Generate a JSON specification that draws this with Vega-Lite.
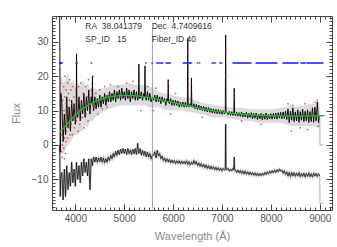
{
"$schema":"https://vega.github.io/schema/vega-lite/v6.json",
"width":280,"height":194,
"autosize":{"type":"none"},
"padding":{"left":52,"top":16,"right":5,"bottom":37},
"config":{"view":{"stroke":null},"axis":{"grid":false,"labelFont":"Liberation Sans","labelFontSize":10,"labelColor":"#555","titleFont":"Liberation Sans","titleFontSize":11,"titleFontWeight":"normal","titleColor":"#888","domainColor":"#444","tickColor":"#444","domainWidth":1,"tickWidth":1}},
"datasets":{
"spec":[
{"w":3680,"m":38,"l":0},{"w":3692,"m":-2,"l":-15},{"w":3705,"m":15,"l":-9},{"w":3725,"m":12,"l":-8},{"w":3750,"m":1,"l":-16},{"w":3775,"m":9,"l":-7},{"w":3800,"m":3,"l":-15},{"w":3825,"m":14,"l":-6},{"w":3850,"m":5,"l":-13},{"w":3875,"m":11,"l":-8},{"w":3900,"m":4,"l":-12},{"w":3925,"m":13,"l":-5},{"w":3950,"m":7,"l":-11},{"w":3975,"m":12,"l":-7},{"w":4000,"m":6,"l":-12},{"w":4017,"m":9,"l":-7},{"w":4025,"m":26.5,"l":-5},{"w":4033,"m":9,"l":-7},{"w":4050,"m":8,"l":-10},{"w":4075,"m":14,"l":-6},{"w":4100,"m":7,"l":-11},{"w":4125,"m":13,"l":-5},{"w":4150,"m":9,"l":-9},{"w":4175,"m":15,"l":-4},{"w":4200,"m":8,"l":-8},{"w":4225,"m":14,"l":-5},{"w":4250,"m":10,"l":-9},{"w":4275,"m":16,"l":-4},{"w":4300,"m":9,"l":-13},{"w":4325,"m":14,"l":-4},{"w":4342,"m":12,"l":-5},{"w":4350,"m":20,"l":-6},{"w":4358,"m":12,"l":-5},{"w":4375,"m":10,"l":-3.5},{"w":4400,"m":14,"l":-5},{"w":4425,"m":10.5,"l":-3.5},{"w":4450,"m":13.5,"l":-5},{"w":4475,"m":11,"l":-3.8},{"w":4500,"m":14.5,"l":-4.8},{"w":4525,"m":11,"l":-3.5},{"w":4550,"m":14,"l":-5},{"w":4575,"m":12,"l":-3.8},{"w":4600,"m":15,"l":-5.2},{"w":4625,"m":11.5,"l":-4},{"w":4650,"m":14.5,"l":-5},{"w":4675,"m":12.5,"l":-3.5},{"w":4700,"m":15.5,"l":-4.5},{"w":4725,"m":12.5,"l":-3},{"w":4750,"m":15,"l":-4},{"w":4775,"m":13,"l":-2.5},{"w":4800,"m":16,"l":-3.5},{"w":4825,"m":12.5,"l":-1.8},{"w":4850,"m":15.5,"l":-3},{"w":4875,"m":13.5,"l":-1.5},{"w":4900,"m":16,"l":-2.8},{"w":4925,"m":13,"l":-1.2},{"w":4950,"m":16.5,"l":-2.5},{"w":4975,"m":13.5,"l":-1},{"w":5000,"m":15.5,"l":-2.5},{"w":5025,"m":13,"l":-1.2},{"w":5050,"m":16.5,"l":-2.8},{"w":5075,"m":13.5,"l":-1},{"w":5100,"m":16,"l":-2.5},{"w":5125,"m":12.5,"l":-1.5},{"w":5150,"m":15.5,"l":-2.8},{"w":5175,"m":13.5,"l":-1.2},{"w":5200,"m":16,"l":-2.6},{"w":5225,"m":13,"l":-1},{"w":5250,"m":15.5,"l":-2.8},{"w":5275,"m":13,"l":0.5},{"w":5292,"m":14,"l":-2},{"w":5300,"m":23.5,"l":-2.5},{"w":5308,"m":14,"l":-2},{"w":5325,"m":13.5,"l":-1},{"w":5350,"m":15.5,"l":-3},{"w":5375,"m":13,"l":-1.5},{"w":5400,"m":15,"l":-3},{"w":5417,"m":14,"l":-2.5},{"w":5425,"m":23,"l":-1.8},{"w":5433,"m":14,"l":-2.5},{"w":5450,"m":13,"l":-3.5},{"w":5475,"m":15.5,"l":-2},{"w":5500,"m":13,"l":-3.5},{"w":5525,"m":15,"l":-2.5},{"w":5550,"m":12.5,"l":-4},{"w":5575,"m":14,"l":-3},{"w":5600,"m":13,"l":-3},{"w":5625,"m":14.5,"l":-2},{"w":5650,"m":12.5,"l":-3.8},{"w":5675,"m":14.5,"l":-1.5},{"w":5700,"m":12.5,"l":-3.2},{"w":5725,"m":14,"l":-2.5},{"w":5750,"m":12,"l":-4},{"w":5775,"m":14,"l":-3.2},{"w":5800,"m":12.5,"l":-4.5},{"w":5825,"m":13.5,"l":-3.8},{"w":5850,"m":11.5,"l":-4.8},{"w":5875,"m":13.5,"l":-4},{"w":5892,"m":12.5,"l":-4.5},{"w":5900,"m":19,"l":-5},{"w":5908,"m":12.5,"l":-4.5},{"w":5925,"m":12,"l":-4.2},{"w":5950,"m":13.5,"l":-5.2},{"w":5975,"m":11.5,"l":-4.4},{"w":6000,"m":13,"l":-5.2},{"w":6025,"m":11.5,"l":-4.5},{"w":6050,"m":13,"l":-5.4},{"w":6075,"m":11.5,"l":-4.6},{"w":6100,"m":12.8,"l":-5.3},{"w":6125,"m":11,"l":-4.6},{"w":6150,"m":12.5,"l":-5.5},{"w":6175,"m":11.2,"l":-4.7},{"w":6200,"m":12.5,"l":-5.4},{"w":6225,"m":11,"l":-4.8},{"w":6250,"m":12.4,"l":-5.5},{"w":6275,"m":11,"l":-4.6},{"w":6292,"m":11.5,"l":-5.2},{"w":6300,"m":31,"l":-5.6},{"w":6308,"m":11.5,"l":-5.2},{"w":6325,"m":11,"l":-4.8},{"w":6350,"m":12,"l":-5.8},{"w":6367,"m":11.5,"l":-5.3},{"w":6375,"m":19.5,"l":-5},{"w":6383,"m":11.5,"l":-5.3},{"w":6400,"m":11,"l":-5.6},{"w":6425,"m":12,"l":-4.5},{"w":6450,"m":10.5,"l":-5.5},{"w":6475,"m":11.8,"l":-4.8},{"w":6500,"m":10.3,"l":-6},{"w":6525,"m":11.6,"l":-5.2},{"w":6550,"m":10.2,"l":-6.2},{"w":6575,"m":11.3,"l":-5.4},{"w":6600,"m":10,"l":-6.4},{"w":6625,"m":11.2,"l":-5.6},{"w":6650,"m":9.8,"l":-6.6},{"w":6675,"m":11,"l":-5.8},{"w":6700,"m":9.6,"l":-6.8},{"w":6725,"m":10.9,"l":-6},{"w":6750,"m":9.5,"l":-7},{"w":6775,"m":10.6,"l":-6.2},{"w":6800,"m":9.3,"l":-7},{"w":6825,"m":10.5,"l":-6.3},{"w":6850,"m":9.2,"l":-7.2},{"w":6875,"m":10.4,"l":-6.5},{"w":6900,"m":9.1,"l":-7.3},{"w":6925,"m":10.3,"l":-6.6},{"w":6950,"m":9,"l":-7.4},{"w":6975,"m":10.1,"l":-6.8},{"w":7000,"m":8.9,"l":-7.5},{"w":7025,"m":10,"l":-6.8},{"w":7050,"m":9,"l":-7.3},{"w":7067,"m":9.4,"l":-7.1},{"w":7075,"m":32,"l":6},{"w":7083,"m":9.4,"l":-7.1},{"w":7100,"m":9.5,"l":-7.2},{"w":7125,"m":8.8,"l":-6.8},{"w":7150,"m":9.8,"l":-7.6},{"w":7175,"m":8.6,"l":-7},{"w":7200,"m":9.7,"l":-7.5},{"w":7225,"m":8.6,"l":-6.8},{"w":7242,"m":9.2,"l":-7.2},{"w":7250,"m":16.5,"l":-3.5},{"w":7258,"m":9.2,"l":-7.2},{"w":7275,"m":8.5,"l":-7.2},{"w":7300,"m":9.6,"l":-8},{"w":7325,"m":8.4,"l":-7.3},{"w":7350,"m":9.4,"l":-8.1},{"w":7375,"m":8.3,"l":-7.4},{"w":7400,"m":9.6,"l":-8.3},{"w":7425,"m":8.1,"l":-7.5},{"w":7450,"m":9.3,"l":-8.4},{"w":7475,"m":8.2,"l":-7.6},{"w":7500,"m":9.5,"l":-8.5},{"w":7525,"m":7.8,"l":-7.8},{"w":7550,"m":9.2,"l":-8.6},{"w":7575,"m":8,"l":-7.9},{"w":7600,"m":9.4,"l":-8.7},{"w":7625,"m":7.6,"l":-8},{"w":7650,"m":9.2,"l":-8.8},{"w":7675,"m":7.8,"l":-8.1},{"w":7700,"m":9.3,"l":-8.9},{"w":7725,"m":7.4,"l":-8.2},{"w":7750,"m":9,"l":-9},{"w":7775,"m":7.6,"l":-8.3},{"w":7800,"m":9.2,"l":-8.9},{"w":7825,"m":7.3,"l":-8.2},{"w":7850,"m":9,"l":-8.8},{"w":7875,"m":7.5,"l":-8},{"w":7900,"m":9.3,"l":-8.6},{"w":7925,"m":7.4,"l":-7.8},{"w":7950,"m":8.9,"l":-8.4},{"w":7975,"m":7.6,"l":-7.6},{"w":8000,"m":9.1,"l":-8.2},{"w":8025,"m":7.5,"l":-7.5},{"w":8050,"m":9.2,"l":-8.1},{"w":8075,"m":7.6,"l":-7.3},{"w":8100,"m":9.3,"l":-8},{"w":8125,"m":7.5,"l":-7.2},{"w":8150,"m":9.4,"l":-7.8},{"w":8175,"m":7.8,"l":-7},{"w":8200,"m":9.5,"l":-7.6},{"w":8225,"m":7.6,"l":-7.3},{"w":8250,"m":9.6,"l":-8.2},{"w":8275,"m":7.7,"l":-7.5},{"w":8300,"m":9.8,"l":-8.6},{"w":8325,"m":7.4,"l":-7.8},{"w":8350,"m":10.5,"l":-9},{"w":8375,"m":6.5,"l":-8},{"w":8400,"m":9.8,"l":-9.2},{"w":8425,"m":7.2,"l":-8},{"w":8450,"m":10.8,"l":-9},{"w":8475,"m":6.8,"l":-8.1},{"w":8500,"m":9.6,"l":-9.1},{"w":8525,"m":7,"l":-8.2},{"w":8550,"m":10.2,"l":-9},{"w":8575,"m":6.6,"l":-8},{"w":8600,"m":9.7,"l":-9.2},{"w":8625,"m":7.2,"l":-8.3},{"w":8650,"m":10.4,"l":-9.1},{"w":8675,"m":6.8,"l":-8.2},{"w":8700,"m":9.8,"l":-9.3},{"w":8725,"m":7,"l":-8.3},{"w":8750,"m":10.2,"l":-9.1},{"w":8775,"m":6.5,"l":-8.1},{"w":8800,"m":9.7,"l":-9.2},{"w":8825,"m":6.8,"l":-8.4},{"w":8850,"m":10.8,"l":-9.3},{"w":8875,"m":6.6,"l":-8.2},{"w":8900,"m":11,"l":-9},{"w":8925,"m":7,"l":-8.3},{"w":8950,"m":12.5,"l":-9.2},{"w":8975,"m":6.5,"l":-8.4},{"w":9000,"m":8.5,"l":-9}
],
"band":[
{"w":3680,"lo":-3,"hi":38},{"w":3692,"lo":-3,"hi":20},{"w":3725,"lo":-2,"hi":20},{"w":3750,"lo":-3,"hi":18},{"w":3800,"lo":-1,"hi":19},{"w":3850,"lo":0,"hi":21},{"w":3900,"lo":1,"hi":18},{"w":3950,"lo":2,"hi":19},{"w":4000,"lo":3,"hi":17},{"w":4017,"lo":3,"hi":17},{"w":4025,"lo":3,"hi":27},{"w":4033,"lo":3,"hi":17.5},{"w":4050,"lo":3,"hi":18},{"w":4100,"lo":4,"hi":17},{"w":4150,"lo":4,"hi":19},{"w":4200,"lo":6,"hi":17},{"w":4250,"lo":5,"hi":18},{"w":4300,"lo":7,"hi":16.5},{"w":4342,"lo":7,"hi":16.5},{"w":4350,"lo":7,"hi":21},{"w":4358,"lo":7,"hi":16.5},{"w":4400,"lo":8,"hi":16.5},{"w":4450,"lo":8.5,"hi":16},{"w":4500,"lo":9,"hi":16.5},{"w":4600,"lo":10,"hi":16.5},{"w":4700,"lo":10.5,"hi":17},{"w":4800,"lo":11,"hi":17.5},{"w":4900,"lo":11.5,"hi":17.5},{"w":5000,"lo":11.5,"hi":17.5},{"w":5100,"lo":11.5,"hi":18},{"w":5200,"lo":11.5,"hi":17.5},{"w":5292,"lo":11.5,"hi":17.5},{"w":5300,"lo":11.5,"hi":23.5},{"w":5308,"lo":11.5,"hi":17.5},{"w":5417,"lo":11.5,"hi":17.5},{"w":5425,"lo":11.5,"hi":23},{"w":5433,"lo":11.5,"hi":17.5},{"w":5500,"lo":11,"hi":17},{"w":5600,"lo":11,"hi":16.5},{"w":5700,"lo":11,"hi":15.5},{"w":5800,"lo":10.5,"hi":15},{"w":5892,"lo":10,"hi":15},{"w":5900,"lo":10,"hi":19},{"w":5908,"lo":10,"hi":15},{"w":6000,"lo":10,"hi":14.5},{"w":6100,"lo":10,"hi":14},{"w":6200,"lo":10,"hi":13.8},{"w":6292,"lo":9.5,"hi":13.8},{"w":6300,"lo":9.5,"hi":31},{"w":6308,"lo":9.5,"hi":13.8},{"w":6367,"lo":9.5,"hi":13.5},{"w":6375,"lo":9.5,"hi":19.5},{"w":6383,"lo":9.5,"hi":13.5},{"w":6400,"lo":9.5,"hi":13.2},{"w":6500,"lo":9,"hi":12.8},{"w":6600,"lo":9,"hi":12.3},{"w":6700,"lo":8.5,"hi":12},{"w":6800,"lo":8,"hi":11.8},{"w":6900,"lo":8,"hi":11.5},{"w":7000,"lo":8,"hi":11.2},{"w":7067,"lo":8,"hi":11.2},{"w":7075,"lo":8,"hi":32},{"w":7083,"lo":8,"hi":11.2},{"w":7150,"lo":7.8,"hi":11},{"w":7242,"lo":7.5,"hi":10.8},{"w":7250,"lo":7.5,"hi":16.5},{"w":7258,"lo":7.5,"hi":10.8},{"w":7300,"lo":7.5,"hi":10.8},{"w":7400,"lo":7.2,"hi":10.8},{"w":7500,"lo":7,"hi":10.6},{"w":7600,"lo":7,"hi":10.4},{"w":7700,"lo":6.5,"hi":10.4},{"w":7800,"lo":6.5,"hi":10.4},{"w":7900,"lo":6.5,"hi":10.4},{"w":8000,"lo":6.5,"hi":10.4},{"w":8100,"lo":6.5,"hi":10.5},{"w":8200,"lo":6.5,"hi":10.8},{"w":8300,"lo":6,"hi":11},{"w":8400,"lo":5.5,"hi":11.5},{"w":8500,"lo":5.5,"hi":11},{"w":8600,"lo":5.5,"hi":11.5},{"w":8700,"lo":5.5,"hi":11.5},{"w":8800,"lo":5.5,"hi":12},{"w":8900,"lo":5.5,"hi":12},{"w":8950,"lo":5,"hi":13},{"w":9000,"lo":5,"hi":12}
],
"tail":[
{"w":9000,"f":8.5,"g":"a"},{"w":9005,"f":0,"g":"a"},{"w":9070,"f":0,"g":"a"},
{"w":9000,"f":-9,"g":"b"},{"w":9005,"f":-17,"g":"b"},{"w":9070,"f":-17,"g":"b"}
],
"sky":[{"w":5577,"top":34,"bot":-18.5}],
"fit":[
{"w":3690,"f":3.9},{"w":3800,"f":5.5},{"w":3900,"f":7.2},{"w":4000,"f":8.7},{"w":4100,"f":10},{"w":4200,"f":11},{"w":4300,"f":11.9},{"w":4400,"f":12.6},{"w":4500,"f":13.2},{"w":4600,"f":13.7},{"w":4700,"f":14},{"w":4800,"f":14.2},{"w":4900,"f":14.35},{"w":5000,"f":14.4},{"w":5100,"f":14.4},{"w":5200,"f":14.35},{"w":5300,"f":14.2},{"w":5400,"f":14},{"w":5500,"f":13.75},{"w":5600,"f":13.5},{"w":5800,"f":12.9},{"w":6000,"f":12.3},{"w":6200,"f":11.7},{"w":6400,"f":11.1},{"w":6600,"f":10.5},{"w":6800,"f":10},{"w":7000,"f":9.6},{"w":7200,"f":9.2},{"w":7400,"f":8.95},{"w":7600,"f":8.75},{"w":7800,"f":8.6},{"w":8000,"f":8.5},{"w":8200,"f":8.45},{"w":8400,"f":8.4},{"w":8600,"f":8.4},{"w":8800,"f":8.45},{"w":9000,"f":8.5},{"w":9100,"f":8.55}
],
"red":[
{"w":3685,"f":28},{"w":3690,"f":22},{"w":3700,"f":18},{"w":3710,"f":15},{"w":3715,"f":3},{"w":3720,"f":-2},{"w":3730,"f":-3.5},{"w":3735,"f":0},{"w":3740,"f":8},{"w":3745,"f":13},{"w":3755,"f":5},{"w":3760,"f":17},{"w":3765,"f":-1},{"w":3770,"f":10},{"w":3775,"f":-4},{"w":3780,"f":2},{"w":3785,"f":14},{"w":3790,"f":20},{"w":3795,"f":7},{"w":3800,"f":-2.5},{"w":3805,"f":1},{"w":3810,"f":12},{"w":3815,"f":16},{"w":3820,"f":4},{"w":3830,"f":9},{"w":3840,"f":18},{"w":3845,"f":2},{"w":3855,"f":11},{"w":3860,"f":15},{"w":3870,"f":5},{"w":3880,"f":13},{"w":3885,"f":19},{"w":3890,"f":3},{"w":3900,"f":9},{"w":3910,"f":16},{"w":3915,"f":6},{"w":3930,"f":12},{"w":3940,"f":3},{"w":3945,"f":17},{"w":3960,"f":8},{"w":3970,"f":14},{"w":3980,"f":5},{"w":3990,"f":11},{"w":4010,"f":16},{"w":4020,"f":7},{"w":4030,"f":24},{"w":4040,"f":13},{"w":4060,"f":4},{"w":4070,"f":17},{"w":4080,"f":10},{"w":4090,"f":6},{"w":4110,"f":18},{"w":4120,"f":12},{"w":4140,"f":8},{"w":4160,"f":15},{"w":4180,"f":5},{"w":4190,"f":13},{"w":4210,"f":17},{"w":4220,"f":9},{"w":4240,"f":14},{"w":4260,"f":7},{"w":4270,"f":19},{"w":4290,"f":12},{"w":4310,"f":10},{"w":4330,"f":16},{"w":4360,"f":20},{"w":4380,"f":11},{"w":4420,"f":15},{"w":4460,"f":9},{"w":4500,"f":16},{"w":4550,"f":10.5},{"w":4600,"f":17},{"w":4650,"f":11},{"w":4720,"f":17.5},{"w":4880,"f":17},{"w":5050,"f":18},{"w":5180,"f":18.5},{"w":5300,"f":22},{"w":5340,"f":10},{"w":5420,"f":22},{"w":5480,"f":17},{"w":5600,"f":10},{"w":5650,"f":16.5},{"w":5900,"f":18},{"w":5950,"f":9},{"w":6050,"f":15},{"w":6300,"f":27},{"w":6310,"f":22},{"w":6370,"f":18},{"w":6600,"f":8},{"w":7075,"f":28},{"w":7080,"f":20},{"w":7250,"f":15},{"w":7255,"f":13.5},{"w":7400,"f":7},{"w":7800,"f":6},{"w":8350,"f":12},{"w":8420,"f":4},{"w":8450,"f":11.5},{"w":8600,"f":5},{"w":8700,"f":12},{"w":8750,"f":4.5},{"w":8900,"f":12.5},{"w":8950,"f":13},{"w":8970,"f":5.5}
],
"blue":[
{"w":3685,"f":23.8},{"w":3695,"f":23.8},{"w":3705,"f":23.8},{"w":3715,"f":23.8},{"w":3725,"f":23.8},{"w":4015,"f":23.8},{"w":4030,"f":23.8},{"w":4330,"f":23.8},{"w":5445,"f":23.8},{"w":5570,"f":23.8},{"w":5670,"f":23.8},{"w":5690,"f":23.8},{"w":5720,"f":23.8},{"w":5740,"f":23.8},{"w":5770,"f":23.8},{"w":5785,"f":23.8},{"w":5860,"f":23.8},{"w":5880,"f":23.8},{"w":5900,"f":23.8},{"w":5920,"f":23.8},{"w":5940,"f":23.8},{"w":6210,"f":23.8},{"w":6230,"f":23.8},{"w":6250,"f":23.8},{"w":6270,"f":23.8},{"w":6290,"f":23.8},{"w":6310,"f":23.8},{"w":6330,"f":23.8},{"w":6350,"f":23.8},{"w":6370,"f":23.8},{"w":6500,"f":23.8},{"w":6540,"f":23.8},{"w":6800,"f":23.8},{"w":6830,"f":23.8},{"w":6860,"f":23.8},{"w":6960,"f":23.8},{"w":6990,"f":23.8},
{"w":7230,"f":23.8},{"w":7250,"f":23.8},{"w":7270,"f":23.8},{"w":7290,"f":23.8},{"w":7310,"f":23.8},{"w":7330,"f":23.8},{"w":7350,"f":23.8},{"w":7370,"f":23.8},{"w":7390,"f":23.8},{"w":7410,"f":23.8},{"w":7430,"f":23.8},{"w":7450,"f":23.8},{"w":7470,"f":23.8},{"w":7490,"f":23.8},{"w":7510,"f":23.8},{"w":7530,"f":23.8},{"w":7550,"f":23.8},{"w":7570,"f":23.8},{"w":7590,"f":23.8},
{"w":7700,"f":23.8},{"w":7720,"f":23.8},{"w":7740,"f":23.8},{"w":7760,"f":23.8},{"w":7780,"f":23.8},{"w":7800,"f":23.8},{"w":7820,"f":23.8},{"w":7840,"f":23.8},{"w":7860,"f":23.8},{"w":7880,"f":23.8},{"w":7900,"f":23.8},{"w":7920,"f":23.8},{"w":7940,"f":23.8},{"w":7960,"f":23.8},{"w":7980,"f":23.8},{"w":8000,"f":23.8},{"w":8020,"f":23.8},{"w":8040,"f":23.8},{"w":8060,"f":23.8},{"w":8080,"f":23.8},{"w":8100,"f":23.8},{"w":8120,"f":23.8},
{"w":8250,"f":23.8},{"w":8270,"f":23.8},{"w":8290,"f":23.8},{"w":8310,"f":23.8},{"w":8330,"f":23.8},{"w":8350,"f":23.8},{"w":8370,"f":23.8},{"w":8390,"f":23.8},{"w":8410,"f":23.8},{"w":8430,"f":23.8},{"w":8450,"f":23.8},{"w":8470,"f":23.8},{"w":8490,"f":23.8},{"w":8510,"f":23.8},{"w":8530,"f":23.8},{"w":8550,"f":23.8},
{"w":8620,"f":23.8},{"w":8640,"f":23.8},{"w":8660,"f":23.8},{"w":8680,"f":23.8},{"w":8700,"f":23.8},
{"w":8740,"f":23.8},{"w":8760,"f":23.8},{"w":8780,"f":23.8},{"w":8800,"f":23.8},{"w":8820,"f":23.8},{"w":8840,"f":23.8},{"w":8860,"f":23.8},{"w":8880,"f":23.8},{"w":8900,"f":23.8},{"w":8920,"f":23.8},{"w":8940,"f":23.8},{"w":8960,"f":23.8},{"w":8980,"f":23.8},{"w":9000,"f":23.8},{"w":9020,"f":23.8},{"w":9040,"f":23.8},{"w":9060,"f":23.8}
],
"labels":[
{"w":4204,"f":34.6,"t":"RA\u00a0\u00a038.041379"},{"w":5561,"f":34.6,"t":"Dec\u00a0\u00a04.7409616"},{"w":4204,"f":30.8,"t":"SP_ID\u00a0\u00a0\u00a015"},{"w":5561,"f":30.8,"t":"Fiber_ID\u00a040"}
]
},
"resolve":{"axis":{"x":"independent","y":"independent"}},
"layer":[
{"data":{"name":"band"},"mark":{"type":"area","color":"#999","opacity":0.35,"clip":true},
 "encoding":{
  "x":{"field":"w","type":"quantitative","scale":{"domain":[3523,9250],"nice":false,"zero":false},"axis":{"orient":"bottom","values":[4000,5000,6000,7000,8000,9000],"format":"d","tickSize":-6,"labelPadding":9,"title":"Wavelength (Å)","titlePadding":7}},
  "y":{"field":"lo","type":"quantitative","scale":{"domain":[-18.9,37.5],"nice":false,"zero":false},"axis":{"orient":"left","values":[-10,0,10,20,30],"tickSize":-6,"labelPadding":10,"title":"Flux","titlePadding":10}},
  "y2":{"field":"hi"}}},
{"data":{"name":"spec"},"mark":{"type":"line","color":"#888","opacity":0.5,"strokeWidth":2,"clip":true},
 "encoding":{
  "x":{"field":"w","type":"quantitative","axis":{"orient":"bottom","values":[3600,3700,3800,3900,4000,4100,4200,4300,4400,4500,4600,4700,4800,4900,5000,5100,5200,5300,5400,5500,5600,5700,5800,5900,6000,6100,6200,6300,6400,6500,6600,6700,6800,6900,7000,7100,7200,7300,7400,7500,7600,7700,7800,7900,8000,8100,8200,8300,8400,8500,8600,8700,8800,8900,9000,9100,9200],"tickSize":-3,"labels":false,"domain":false,"title":null}},
  "y":{"field":"l","type":"quantitative","axis":{"orient":"left","values":[-18,-17,-16,-15,-14,-13,-12,-11,-10,-9,-8,-7,-6,-5,-4,-3,-2,-1,0,1,2,3,4,5,6,7,8,9,10,11,12,13,14,15,16,17,18,19,20,21,22,23,24,25,26,27,28,29,30,31,32,33,34,35,36,37],"tickSize":-3,"labels":false,"domain":false,"title":null}}}},
{"data":{"name":"spec"},"mark":{"type":"line","color":"#000","strokeWidth":0.9,"clip":true},
 "encoding":{
  "x":{"field":"w","type":"quantitative","axis":{"orient":"top","values":[4000,5000,6000,7000,8000,9000],"tickSize":-6,"labels":false,"title":null}},
  "y":{"field":"m","type":"quantitative","axis":{"orient":"right","values":[-10,0,10,20,30],"tickSize":-6,"labels":false,"title":null}}}},
{"data":{"name":"spec"},"mark":{"type":"line","color":"#000","strokeWidth":0.7,"clip":true},
 "encoding":{
  "x":{"field":"w","type":"quantitative","axis":{"orient":"top","values":[3600,3700,3800,3900,4000,4100,4200,4300,4400,4500,4600,4700,4800,4900,5000,5100,5200,5300,5400,5500,5600,5700,5800,5900,6000,6100,6200,6300,6400,6500,6600,6700,6800,6900,7000,7100,7200,7300,7400,7500,7600,7700,7800,7900,8000,8100,8200,8300,8400,8500,8600,8700,8800,8900,9000,9100,9200],"tickSize":-3,"labels":false,"domain":false,"title":null}},
  "y":{"field":"l","type":"quantitative","axis":{"orient":"right","values":[-18,-17,-16,-15,-14,-13,-12,-11,-10,-9,-8,-7,-6,-5,-4,-3,-2,-1,0,1,2,3,4,5,6,7,8,9,10,11,12,13,14,15,16,17,18,19,20,21,22,23,24,25,26,27,28,29,30,31,32,33,34,35,36,37],"tickSize":-3,"labels":false,"domain":false,"title":null}}}},
{"data":{"name":"sky"},"mark":{"type":"rule","color":"#888","strokeWidth":0.8,"clip":true},
 "encoding":{"x":{"field":"w","type":"quantitative","axis":null},"y":{"field":"top","type":"quantitative","axis":null},"y2":{"field":"bot"}}},
{"data":{"name":"tail"},"mark":{"type":"line","color":"#999","strokeWidth":0.8,"clip":true},
 "encoding":{"x":{"field":"w","type":"quantitative","axis":null},"y":{"field":"f","type":"quantitative","axis":null},"detail":{"field":"g"}}},
{"data":{"name":"fit"},"mark":{"type":"line","color":"#22c022","strokeWidth":1.3,"clip":true},
 "encoding":{"x":{"field":"w","type":"quantitative","axis":null},"y":{"field":"f","type":"quantitative","axis":null}}},
{"data":{"name":"red"},"mark":{"type":"point","filled":true,"color":"#ff2020","size":3,"opacity":0.8,"clip":true},
 "encoding":{"x":{"field":"w","type":"quantitative","axis":null},"y":{"field":"f","type":"quantitative","axis":null}}},
{"data":{"name":"blue"},"mark":{"type":"point","filled":true,"color":"#2020ff","size":4,"clip":true},
 "encoding":{"x":{"field":"w","type":"quantitative","axis":null},"y":{"field":"f","type":"quantitative","axis":null}}},
{"data":{"name":"labels"},"mark":{"type":"text","align":"left","baseline":"middle","font":"Liberation Sans","fontSize":8.5,"color":"#333"},
 "encoding":{"x":{"field":"w","type":"quantitative","axis":null},"y":{"field":"f","type":"quantitative","axis":null},"text":{"field":"t"}}}
]
}
